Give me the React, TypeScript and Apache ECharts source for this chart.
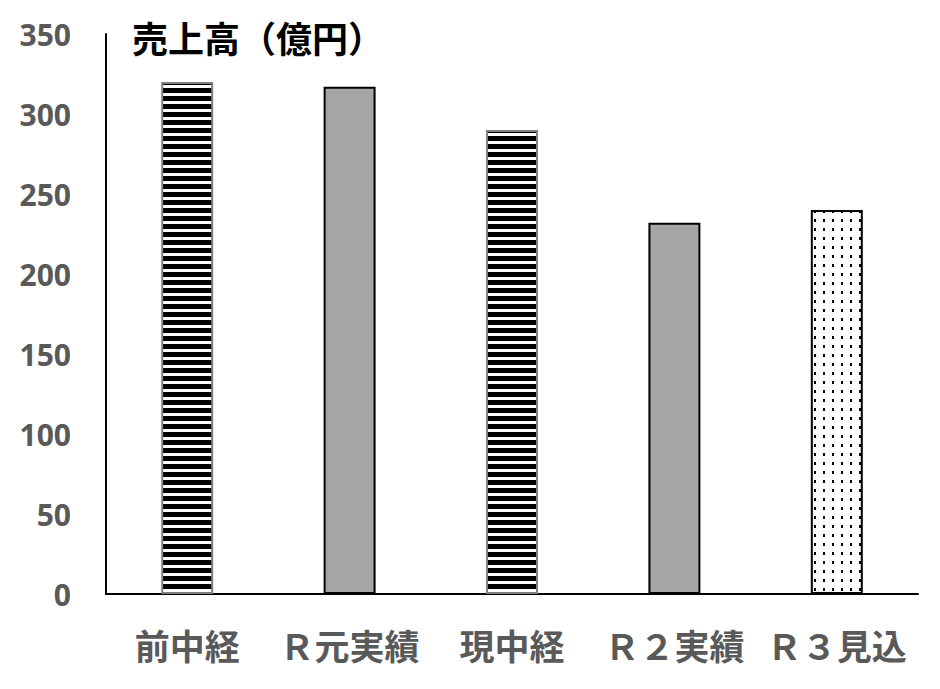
import React, { useEffect, useRef } from "react";
import * as echarts from "echarts";

const categories = ["前中経", "Ｒ元実績", "現中経", "Ｒ２実績", "Ｒ３見込"];
const values = [320, 317, 290, 232, 240];
const fillKinds = ["stripe", "gray", "stripe", "gray", "dots"];
const yTicks = [0, 50, 100, 150, 200, 250, 300, 350];

function makeStripe(): string {
  const c = document.createElement("canvas");
  c.width = 8;
  c.height = 8;
  const ctx = c.getContext("2d")!;
  ctx.fillStyle = "#ffffff";
  ctx.fillRect(0, 0, 8, 8);
  ctx.fillStyle = "#000000";
  ctx.fillRect(0, 0, 8, 5);
  return c.toDataURL();
}

function makeDots(): string {
  const c = document.createElement("canvas");
  c.width = 9;
  c.height = 9;
  const ctx = c.getContext("2d")!;
  ctx.fillStyle = "#ffffff";
  ctx.fillRect(0, 0, 9, 9);
  ctx.fillStyle = "#000000";
  ctx.fillRect(4, 3, 2, 3);
  return c.toDataURL();
}

export default function App() {
  const ref = useRef<HTMLDivElement>(null);
  useEffect(() => {
    if (!ref.current) return;
    const chart = echarts.init(ref.current, null, { renderer: "svg" });
    const stripe = makeStripe();
    const dots = makeDots();
    const data = values.map((v, i) => {
      const k = fillKinds[i];
      let itemStyle: any;
      if (k === "stripe") {
        itemStyle = { color: { image: stripe, repeat: "repeat" }, borderColor: "#7f7f7f", borderWidth: 2 };
      } else if (k === "gray") {
        itemStyle = { color: "#a5a5a5", borderColor: "#000000", borderWidth: 2 };
      } else {
        itemStyle = { color: { image: dots, repeat: "repeat" }, borderColor: "#000000", borderWidth: 2 };
      }
      return { value: v, itemStyle };
    });
    chart.setOption({
      animation: false,
      title: {
        text: "売上高（億円）",
        left: 127,
        top: 14,
        textStyle: { fontFamily: "Noto Sans CJK JP", fontWeight: "bold", fontSize: 36, color: "#000000" },
      },
      grid: { left: 106, right: 22, top: 34, bottom: 95, containLabel: false },
      xAxis: {
        type: "category",
        data: categories,
        axisLine: { lineStyle: { color: "#000000", width: 2 } },
        axisTick: { show: false },
        axisLabel: {
          margin: 33,
          fontFamily: "Noto Sans CJK JP",
          fontWeight: "bold",
          fontSize: 35,
          color: "#595959",
          interval: 0,
        },
      },
      yAxis: {
        type: "value",
        min: yTicks[0],
        max: yTicks[yTicks.length - 1],
        interval: 50,
        axisLine: { show: true, lineStyle: { color: "#000000", width: 2 } },
        axisTick: { show: false },
        splitLine: { show: false },
        axisLabel: {
          margin: 35,
          fontFamily: "Noto Sans",
          fontWeight: "bold",
          fontSize: 30,
          color: "#595959",
        },
      },
      series: [
        {
          type: "bar",
          data,
          barWidth: "32%",
        },
      ],
    });
    return () => chart.dispose();
  }, []);
  return <div ref={ref} style={{ width: 940, height: 689, margin: -8 }} />;
}
